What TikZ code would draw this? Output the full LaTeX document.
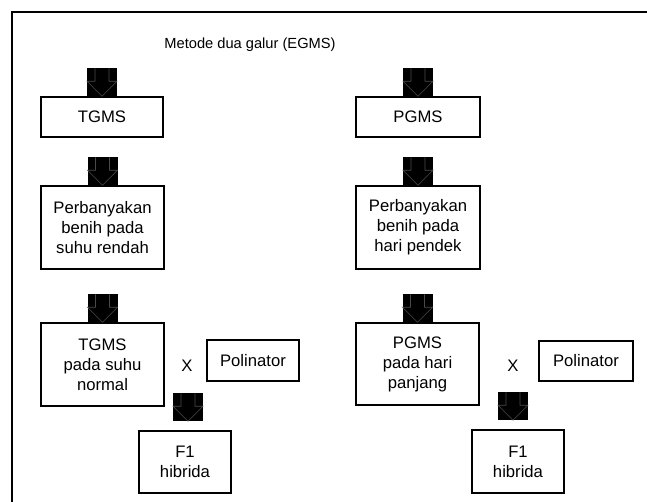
\documentclass[tikz,border=0pt]{standalone}
\usepackage{fontspec}
\setmainfont{Liberation Sans}
\usetikzlibrary{calc}
\definecolor{egmsArrowEdge}{HTML}{4A4A4A}

\tikzset{
  egmsbox/.style={draw, line width=1.1pt, inner sep=0pt, align=center},
  blkarrow/.pic={
    \fill[black] (-15,-28) rectangle (15,0);
    \draw[egmsArrowEdge, line width=0.4pt] (-7,-28) -- (-7,-15) -- (-15,-15) -- (0,0) -- (15,-15) -- (7,-15) -- (7,-28);
  }
}

\begin{document}
\begin{tikzpicture}[x=0.75pt, y=-0.75pt, every node/.style={font=\fontsize{12.5}{15}\selectfont}]
            \useasboundingbox (0,0) rectangle (647,502);
            \draw[line width=1.1pt] (12,510) -- (12,12) -- (660,12);
            \node[font=\fontsize{11}{13}\selectfont] (title) at (250,45) {Metode dua galur (EGMS)};
            \node[egmsbox, minimum width=91.5pt, minimum height=30pt] (tgms) at (102,117) {TGMS};
            \node[egmsbox, minimum width=93pt, minimum height=30pt] (pgms) at (418,117) {PGMS};
            \node[egmsbox, minimum width=92.25pt, minimum height=62.25pt] (perbT) at (102.5,227.5) {Perbanyakan\\benih pada\\suhu rendah};
            \node[egmsbox, minimum width=93pt, minimum height=62.25pt] (perbP) at (418,227.5) {Perbanyakan\\benih pada\\hari pendek};
            \node[egmsbox, minimum width=92.25pt, minimum height=62.25pt] (tgmsN) at (102.5,364.5) {TGMS\\pada suhu\\normal};
            \node[egmsbox, minimum width=92.25pt, minimum height=61.5pt] (pgmsP) at (417.5,364) {PGMS\\pada hari\\panjang};
            \node (crossL) at (187,366) {X};
            \node (crossR) at (513,366) {X};
            \node[egmsbox, minimum width=69pt, minimum height=30.75pt] (polL) at (253,360.5) {Polinator};
            \node[egmsbox, minimum width=70.5pt, minimum height=30pt] (polR) at (586,361) {Polinator};
            \node[egmsbox, minimum width=69pt, minimum height=46.5pt] (hybL) at (185,462) {F1\\hibrida};
            \node[egmsbox, minimum width=69pt, minimum height=47.25pt] (hybR) at (518,461.5) {F1\\hibrida};
            \pic at (tgms.north) {blkarrow};
            \pic at (pgms.north) {blkarrow};
            \pic at (perbT.north) {blkarrow};
            \pic at (perbP.north) {blkarrow};
            \pic at (tgmsN.north) {blkarrow};
            \pic at (pgmsP.north) {blkarrow};
            \pic at ($(hybL.north)+(3,-9)$) {blkarrow};
            \pic at ($(hybR.north)+(-5,-9)$) {blkarrow};
        \end{tikzpicture}
\end{document}
